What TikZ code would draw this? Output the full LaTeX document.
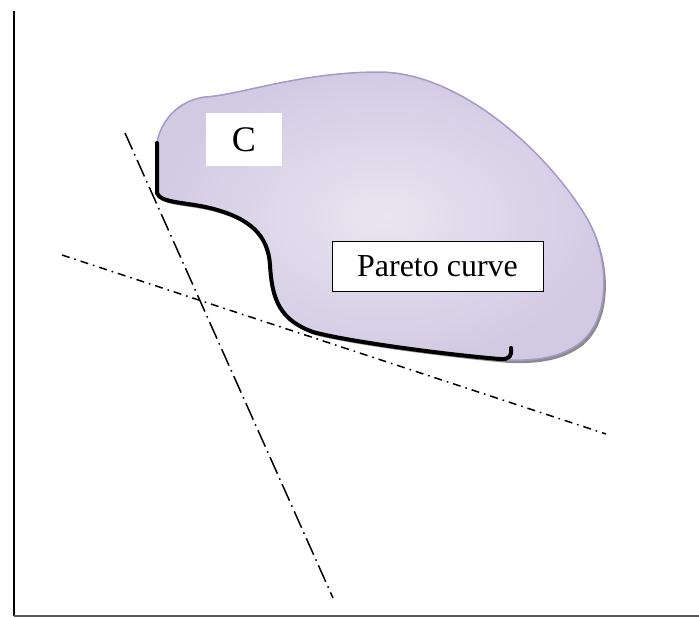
\documentclass[tikz,border=0pt]{standalone}
\usepackage{fontspec}
\setmainfont{Liberation Serif}
\usetikzlibrary{positioning}
\definecolor{blobfill}{RGB}{224,219,236}
\definecolor{blobdark}{RGB}{210,202,227}
\definecolor{blobedge}{RGB}{166,152,200}
\definecolor{shadowgray}{RGB}{140,140,140}
\tikzset{
  axisline/.style={line width=1pt},
  tangentA/.style={line width=.75pt, dash pattern=on 9pt off 2.5pt on .8pt off 2.5pt},
  tangentB/.style={line width=.75pt, dash pattern=on 4pt off 2.5pt on .8pt off 2.5pt},
  paretoline/.style={line width=2pt, line cap=round, line join=round},
  whitebox/.style={fill=white, inner sep=0pt, minimum width=38pt, minimum height=26.5pt},
  labelbox/.style={draw=black, fill=white, line width=.5pt, inner sep=0pt,
    minimum width=105.5pt, minimum height=25pt}
}
\newcommand{\paretopath}{(157,143) -- (157,193) .. controls (160,203) and (185,202) .. (210,208)
  .. controls (250,218) and (268,235) .. (270,265) .. controls (272,300) and (280,320) .. (313,332)
  .. controls (350,342) and (450,355) .. (500,359) .. controls (510,360) and (512,355) .. (511,348)}
\newcommand{\blobpath}{(157,193) .. controls (160,203) and (185,202) .. (210,208)
  .. controls (250,218) and (268,235) .. (270,265) .. controls (272,300) and (280,320) .. (313,332)
  .. controls (350,342) and (450,355) .. (507,360) .. controls (535,361) and (560,358) .. (580,343)
  .. controls (612,318) and (610,255) .. (585,215) .. controls (545,150) and (460,73) .. (380,72)
  .. controls (300,72) and (240,95) .. (205,97) .. controls (180,100) and (158,120) .. (156,150) -- cycle}

\begin{document}
\begin{tikzpicture}[x=.5pt, y=-.5pt]
  \useasboundingbox (0,0) rectangle (699,617);

  \coordinate (origin) at (14,616);
  \coordinate (ytop) at (14,11);
  \coordinate (xend) at (699,616);
  \draw[axisline] (ytop) -- (origin);
  \draw[axisline, black!65] (origin) -- (xend);

  \fill[shadowgray, shift={(2,3)}] \blobpath;
  \shade[inner color=blobfill!70!white, outer color=blobdark] \blobpath;
  \draw[blobedge, line width=.75pt] \blobpath;

  \coordinate (a1) at (125,133);
  \coordinate (a2) at (333,598);
  \coordinate (b1) at (62,255);
  \coordinate (b2) at (606,434);
  \draw[tangentA] (a1) -- (a2);
  \draw[tangentB] (b1) -- (b2);

  \draw[paretoline] \paretopath;

  \node[whitebox] (setC) at (244,139.5) {\fontsize{18pt}{20pt}\selectfont C};
  \node[labelbox] (pareto) at (437.5,266) {\fontsize{16pt}{18pt}\selectfont Pareto curve};
\end{tikzpicture}
\end{document}
